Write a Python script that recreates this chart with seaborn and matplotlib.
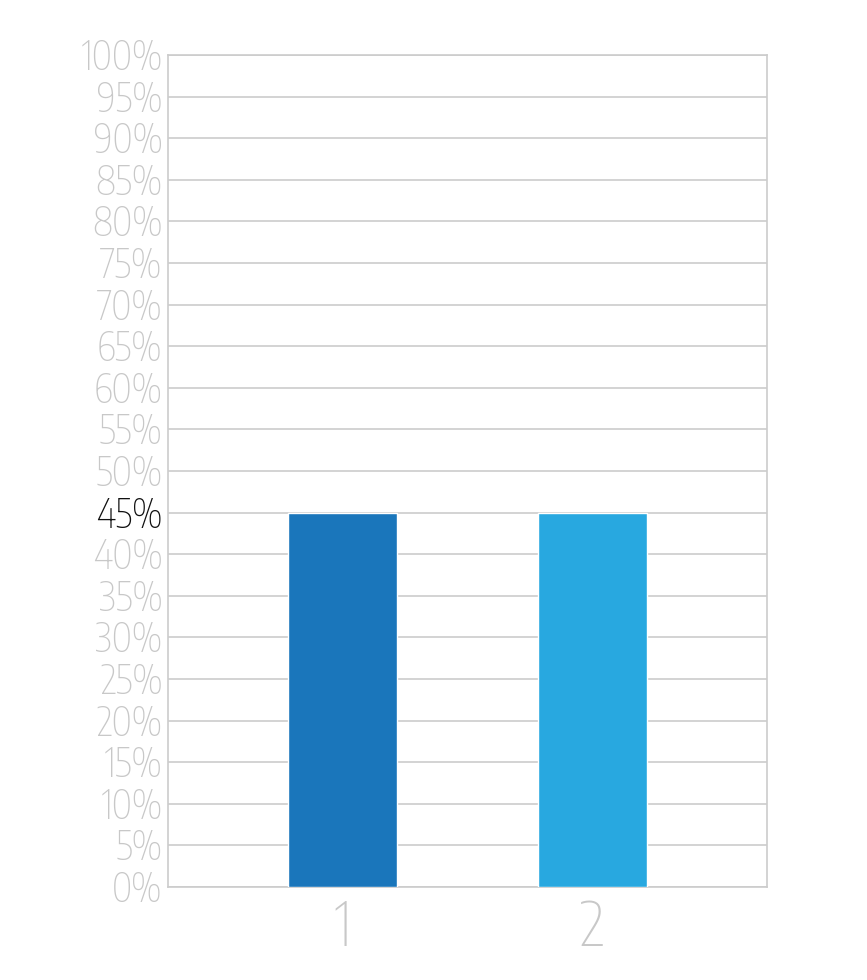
import pandas as pd
import seaborn as sns
import matplotlib.pyplot as plt
from matplotlib import font_manager

categories = ['1', '2']
values = [45, 45]
bar_colors = ['#1a76bb', '#28a8e0']
y_ticks = list(range(0, 101, 5))
highlight = 45


def weight_num(w):
    if isinstance(w, int):
        return w
    return font_manager.weight_dict.get(w, 400)


# look for a narrow / condensed face, lighter is better
cands = []
for f in font_manager.fontManager.ttflist:
    narrow = ('Narrow' in f.name or 'Condensed' in f.name
              or 'condensed' in str(f.stretch) or 'Condensed' in f.fname)
    if narrow and f.style == 'normal':
        cands.append((weight_num(f.weight), f.fname, f.name))
cands.sort()
if cands:
    tick_font = font_manager.FontProperties(fname=cands[0][1])
else:
    tick_font = font_manager.FontProperties(family='DejaVu Sans', weight='light')

df = pd.DataFrame({'cat': categories, 'val': values})

sns.set_style('white')
plt.rcParams['font.family'] = ['DejaVu Sans']

fig = plt.figure(figsize=(8.67, 9.8), dpi=100)
ax = fig.add_axes([0.1938, 0.0949, 0.6909, 0.849])
sns.barplot(x='cat', y='val', hue='cat', data=df, palette=bar_colors,
            width=0.436, legend=False, ax=ax, zorder=3, saturation=1)

ax.set_ylim(0, 100)
ax.set_xlim(-0.7, 1.7)
ax.set_yticks(y_ticks)
ax.set_yticklabels([f'{v}%' for v in y_ticks])
ax.yaxis.grid(True, color='#cccccc', linewidth=1.2, zorder=0)
ax.set_axisbelow(True)
for s in ax.spines.values():
    s.set_color('#cccccc')
    s.set_linewidth(1.2)

ax.tick_params(axis='y', length=0, pad=4, labelcolor='#c8c8c8')
ax.tick_params(axis='x', length=0, pad=10, labelcolor='#c8c8c8')
for lbl, v in zip(ax.get_yticklabels(), y_ticks):
    lbl.set_fontproperties(tick_font)
    lbl.set_fontsize(28)
    if v == highlight:
        lbl.set_color('#111111')
for lbl in ax.get_xticklabels():
    lbl.set_fontproperties(tick_font)
    lbl.set_fontsize(44)
ax.set_xlabel('')
ax.set_ylabel('')

fig.savefig('out.png', dpi=100)
